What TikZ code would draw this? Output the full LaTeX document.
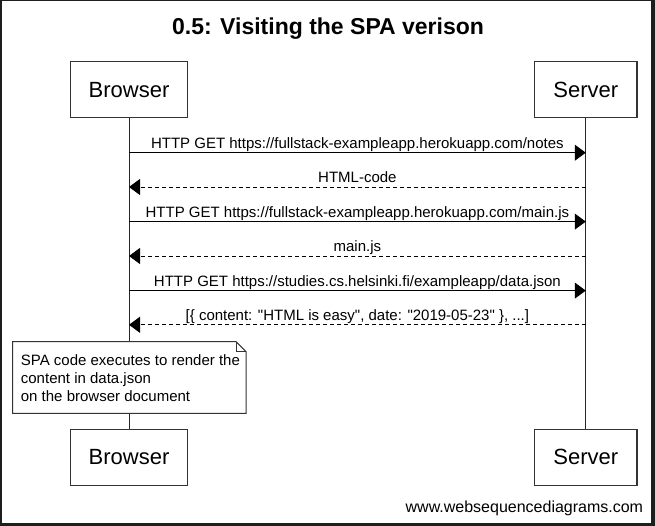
\documentclass[tikz,border=0pt]{standalone}
\usepackage{fontspec}
\setmainfont{Liberation Sans}
\newfontfamily\wsdfont{Liberation Sans}
\usetikzlibrary{arrows.meta}
\definecolor{framedark}{HTML}{1E1E1E}
\definecolor{boxline}{HTML}{333333}
\begin{document}
\begin{tikzpicture}[x=1pt,y=-1pt,
  actor/.style={draw=boxline,line width=1.1pt,fill=white,minimum width=#1,minimum height=56pt,inner sep=0pt,font=\wsdfont\fontsize{22}{26}\selectfont},
  lifeline/.style={draw=black!85,line width=0.9pt},
  msg/.style={draw=black,line width=0.9pt,-{Triangle[length=11pt,width=16pt]}},
  reply/.style={msg,dash pattern=on 4pt off 3pt},
  msglabel/.style={midway,anchor=base,yshift=4.5pt,inner sep=0pt,font=\wsdfont\fontsize{15}{18}\selectfont},
  notebox/.style={draw=boxline,line width=1pt,fill=white,line join=miter},
]
% frame
\fill[framedark] (0,0) rectangle (655,526);
\fill[white] (2,1) rectangle (651,523);
\useasboundingbox (0,0) rectangle (655,526);

% title
\node[anchor=base,inner sep=0pt,font=\wsdfont\fontsize{23}{27}\selectfont\bfseries] (title) at (328,34.5) {0.5: Visiting the SPA verison};

% participants
\node[actor=116.6pt] (bt) at (129,89.7) {Browser};
\node[actor=102.5pt] (st) at (585.75,89.7) {Server};
\node[actor=116.6pt] (bb) at (129,457.4) {Browser};
\node[actor=102.5pt] (sb) at (585.75,457.4) {Server};

% lifelines
\draw[lifeline] (bt.south) -- (bb.north);
\draw[lifeline] (st.south) -- (sb.north);

% message anchor points
\foreach \i/\y in {1/152.7,2/187,3/221.6,4/256,5/290.6,6/324.8}{
  \coordinate (b\i) at (129,\y);
  \coordinate (s\i) at (585.75,\y);
}

\draw[msg] (b1) -- (s1) node[msglabel] (l1) {HTTP GET https://fullstack-exampleapp.herokuapp.com/notes};
\draw[reply] (s2) -- (b2) node[msglabel] (l2) {HTML-code};
\draw[msg] (b3) -- (s3) node[msglabel] (l3) {HTTP GET https://fullstack-exampleapp.herokuapp.com/main.js};
\draw[reply] (s4) -- (b4) node[msglabel] (l4) {main.js};
\draw[msg] (b5) -- (s5) node[msglabel] (l5) {HTTP GET https://studies.cs.helsinki.fi/exampleapp/data.json};
\draw[reply] (s6) -- (b6) node[msglabel] (l6) {[\{ content: "HTML is easy", date: "2019-05-23" \}, ...]};

% note
\draw[notebox] (12.7,341.7) -- (236,341.7) -- (246,351.7) -- (246,413.3) -- (12.7,413.3) -- cycle;
\draw[notebox,fill=none] (236,341.7) -- (236,351.7) -- (246,351.7);
\node[anchor=base west,align=left,inner sep=0pt,font=\wsdfont\fontsize{15}{17.9}\selectfont] (note) at (20.7,401.2) {SPA code executes to render the\\content in data.json\\on the browser document};

% watermark
\node[anchor=base east,inner sep=0pt,font=\wsdfont\fontsize{16}{19}\selectfont] (wm) at (643.3,512.5) {www.websequencediagrams.com};
\end{tikzpicture}
\end{document}
